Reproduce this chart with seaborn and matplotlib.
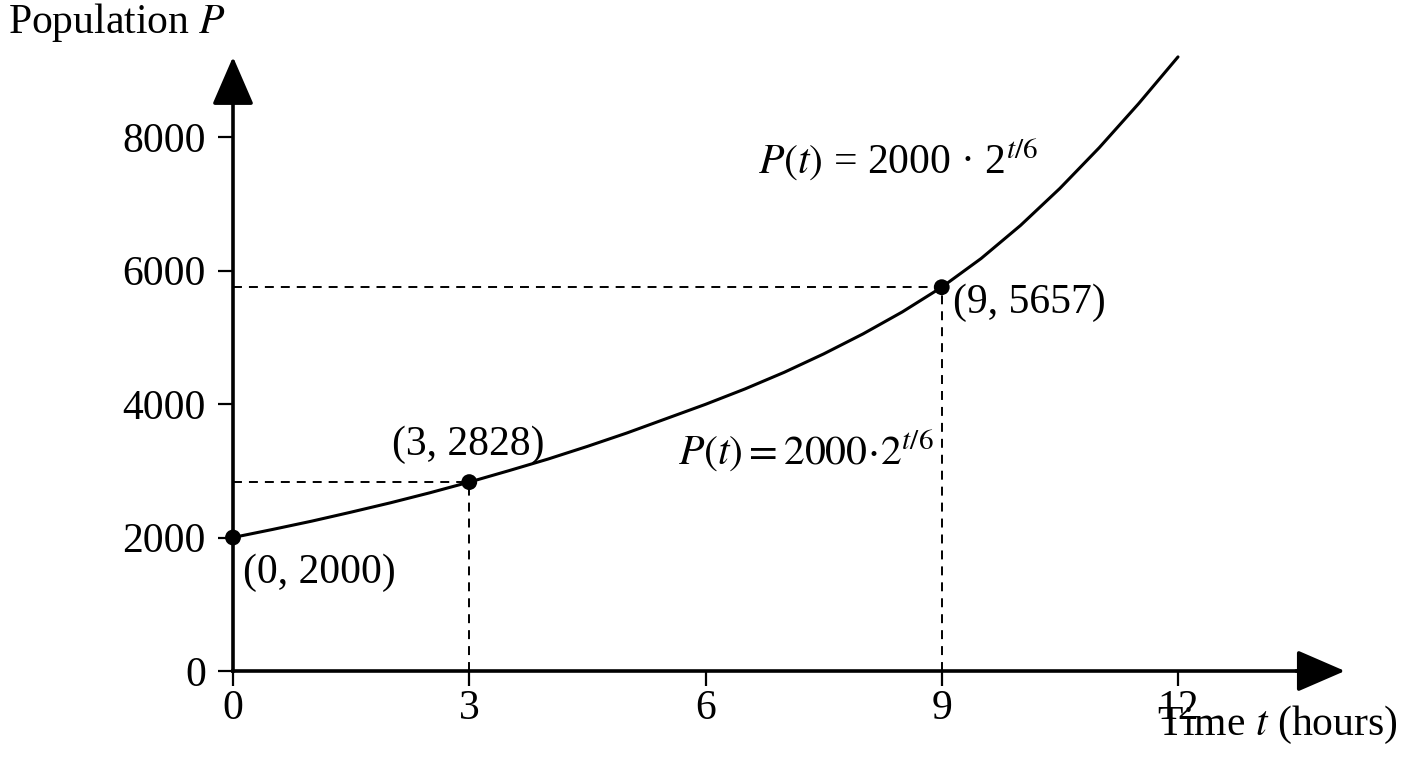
import matplotlib
matplotlib.use("Agg")
import matplotlib.pyplot as plt
import seaborn as sns

sns.set_theme(style="white")
plt.rcParams['font.family'] = ['Liberation Serif', 'DejaVu Serif']
plt.rcParams['mathtext.fontset'] = 'stix'
plt.rcParams['text.color'] = 'black'

# curve values (hours, population)
t_hours = [0, 0.5, 1, 1.5, 2, 2.5, 3, 3.5, 4, 4.5, 5, 5.5, 6,
           6.5, 7, 7.5, 8, 8.5, 9, 9.5, 10, 10.5, 11, 11.5, 12]
pop_curve = [2000, 2120, 2245, 2380, 2520, 2670, 2830, 3000, 3175, 3365, 3565, 3780, 3995,
             4225, 4475, 4750, 5050, 5380, 5750, 6180, 6675, 7230, 7840, 8500, 9200]

# marked points
pt_t = [0, 3, 9]
pt_p = [2000, 2830, 5750]
pt_labels = ["(0, 2000)", "(3, 2828)", "(9, 5657)"]

x_ticks = [0, 3, 6, 9, 12]
y_ticks = [0, 2000, 4000, 6000, 8000]

fig = plt.figure(figsize=(14.08, 7.68), dpi=100)
ax = fig.add_axes([0, 0, 1, 1])
ax.set_facecolor('white')

# dashed guide lines
for t, p in zip(pt_t[1:], pt_p[1:]):
    ax.hlines(p, 0, t, colors='black', linestyles=(0, (4.6, 3.6)), lw=1.4, zorder=2)
    ax.vlines(t, 0, p, colors='black', linestyles=(0, (4.6, 3.6)), lw=1.4, zorder=2)

sns.lineplot(x=t_hours, y=pop_curve, color='black', lw=2.2, ax=ax, zorder=3)
sns.scatterplot(x=pt_t, y=pt_p, color='black', s=130, edgecolor='none', ax=ax, zorder=4)

ax.set_xlim(-233 / 78.75, (1408 - 233) / 78.75)
ax.set_ylim(-97 / 66.75 * 1000, 671 / 66.75 * 1000)

# axes through the origin with arrow heads
for side in ['top', 'right']:
    ax.spines[side].set_visible(False)
ax.spines['left'].set_position(('data', 0))
ax.spines['bottom'].set_position(('data', 0))
ax.spines['left'].set_bounds(0, 8900)
ax.spines['bottom'].set_bounds(0, 13.8)
for side in ['left', 'bottom']:
    ax.spines[side].set_linewidth(2.6)
    ax.spines[side].set_color('black')

arrow = dict(arrowstyle='-|>,head_length=1.5,head_width=0.65', color='black',
             lw=2.6, shrinkA=0, shrinkB=0, mutation_scale=20)
ax.annotate('', xy=(0, 9200), xytext=(0, 8500), arrowprops=arrow)
ax.annotate('', xy=(14.12, 0), xytext=(13.5, 0), arrowprops=arrow)

ax.set_xticks(x_ticks)
ax.set_yticks(y_ticks)
ax.tick_params(axis='x', direction='out', length=11, width=1.6, pad=2.5,
               labelsize=30, bottom=True, colors='black')
ax.tick_params(axis='y', direction='out', length=11, width=1.6, pad=8.5,
               labelsize=30, left=True, colors='black')
ax.grid(False)

for t, p, lab in zip([0.13, 2.02, 9.14], [1318, 3236, 5363], pt_labels):
    ax.text(t, p, lab, fontsize=30, ha='left', va='baseline', color='black')

ax.text(6.67, 7446, r"$P(t)$ = 2000 · 2$^{t/6}$", fontsize=30, ha='left', va='baseline', color='black')
ax.text(5.65, 3086, r"$P(t) = 2000\!\cdot\!2^{t/6}$", fontsize=30, ha='left', va='baseline', color='black')

ax.text(-2.857, 9558, r"Population $P$", fontsize=30, ha='left', va='baseline', color='black')
ax.text(14.79, -959, r"Time $t$ (hours)", fontsize=30, ha='right', va='baseline', color='black')

fig.savefig("out.png", dpi=100)
